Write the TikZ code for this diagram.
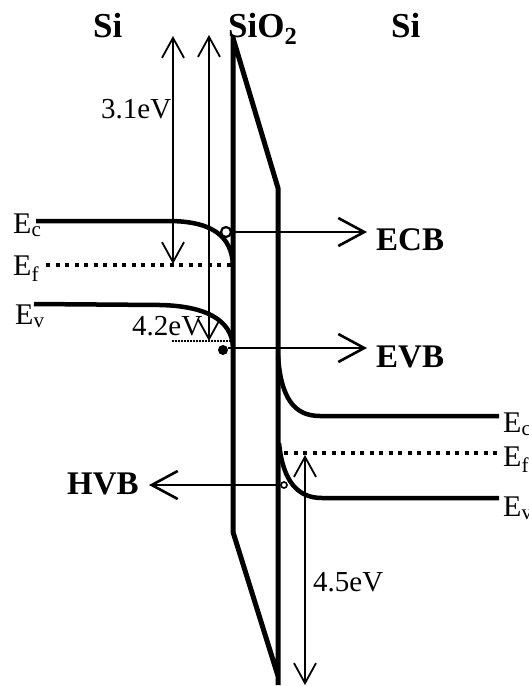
\documentclass[tikz,border=0pt]{standalone}
\usepackage{fontspec}
\setmainfont{Liberation Serif}
\usetikzlibrary{arrows.meta}
\begin{document}
\begin{tikzpicture}[x=1pt,y=-1pt,
  band/.style={line width=4.5pt},
  wall/.style={line width=5pt, line join=round},
  dotline/.style={line width=4.5pt, dash pattern=on 4pt off 5.5pt},
  thindots/.style={line width=1.6pt, dash pattern=on 1.6pt off 1.4pt},
  gaparrow/.style={line width=1.8pt, {Straight Barb[length=20pt,width=22pt,line width=1.8pt]}-{Straight Barb[length=20pt,width=22pt,line width=1.8pt]}},
  flow/.style={line width=2.6pt, -{Straight Barb[length=26pt,width=28pt,line width=2.6pt]}},
  lbl/.style={font=\fontsize{29}{31}\selectfont, inner sep=0pt, anchor=base west},
  elbl/.style={font=\fontsize{30}{32}\selectfont, inner sep=0pt, anchor=base west},
  title/.style={font=\fontsize{35}{37}\selectfont\bfseries, inner sep=0pt, anchor=base west},
  carrier/.style={font=\fontsize{33}{35}\selectfont\bfseries, inner sep=0pt, anchor=base west}
]
\useasboundingbox (0,0) rectangle (529,686);

% titles
\node[title] (si1) at (93,37) {Si};
\node[title] (sio2) at (228,37) {SiO\textsubscript{2}};
\node[title] (si2) at (391,37) {Si};

% oxide
\draw[wall] (278,685) -- (278,188) -- (233,38) -- (233,532) -- (278,676);

% left silicon bands
\coordinate (ecL0) at (36,221);
\coordinate (ecL1) at (233,266);
\draw[band] (ecL0) -- (168,221) .. controls (212,221) and (232,236) .. (ecL1);
\coordinate (efL0) at (46,265);
\coordinate (efL1) at (231,265);
\draw[dotline] (efL0) -- (efL1);
\coordinate (evL0) at (34,304);
\coordinate (evL1) at (233,346);
\draw[band] (evL0) -- (160,305) .. controls (206,306) and (231,320) .. (evL1);
\node[elbl] (ecLl) at (13,233) {E\textsubscript{c}};
\node[elbl] (efLl) at (13,275) {E\textsubscript{f}};
\node[elbl] (evLl) at (15,324) {E\textsubscript{v}};

% right silicon bands
\coordinate (ecR0) at (278,356);
\coordinate (ecR1) at (499,416);
\draw[band] (ecR0) .. controls (281,398) and (294,416) .. (320,416) -- (ecR1);
\coordinate (efR0) at (284,453);
\coordinate (efR1) at (498,453);
\draw[dotline] (efR0) -- (efR1);
\coordinate (evR0) at (279,443);
\coordinate (evR1) at (499,498);
\draw[band] (evR0) .. controls (283,482) and (298,498) .. (322,498) -- (evR1);
\node[elbl] (ecRl) at (503,432) {E\textsubscript{c}};
\node[elbl] (efRl) at (503,466) {E\textsubscript{f}};
\node[elbl] (evRl) at (503,516) {E\textsubscript{v}};

% energy gaps
\coordinate (a1t) at (173,36);
\coordinate (a1b) at (173,264);
\draw[gaparrow] (a1t) -- (a1b);
\node[lbl] (l31) at (101,118) {3.1eV};
\coordinate (a2t) at (209,35);
\coordinate (a2b) at (209,341);
\draw[gaparrow] (a2t) -- (a2b);
\coordinate (d42a) at (172,341);
\coordinate (d42b) at (232,341);
\draw[thindots] (d42a) -- (d42b);
\node[lbl] (l42) at (132,335) {4.2eV};
\coordinate (a3t) at (305,455);
\coordinate (a3b) at (305,685);
\draw[gaparrow] (a3t) -- (a3b);
\node[lbl] (l45) at (313,591) {4.5eV};

% carriers
\node[circle, fill, inner sep=0pt, minimum size=10pt] (hole) at (223,350) {};
\node[circle, draw, line width=2.2pt, fill=white, inner sep=0pt, minimum size=10pt] (elec) at (226,232) {};
\node[circle, draw, line width=1.6pt, fill=white, inner sep=0pt, minimum size=6pt] (hvbdot) at (284,485) {};

\node[carrier] (ecb) at (376,250) {ECB};
\node[carrier] (evb) at (376,367) {EVB};
\node[carrier] (hvb) at (67,494) {HVB};
\coordinate (ecbtip) at (367,232);
\coordinate (evbtip) at (367,348);
\coordinate (hvbtip) at (149,485);
\draw[flow] (elec.east) -- (ecbtip);
\draw[flow] (hole.east) ++(0,-2) -- (evbtip);
\draw[flow] (hvbdot.west) -- (hvbtip);
\end{tikzpicture}
\end{document}
